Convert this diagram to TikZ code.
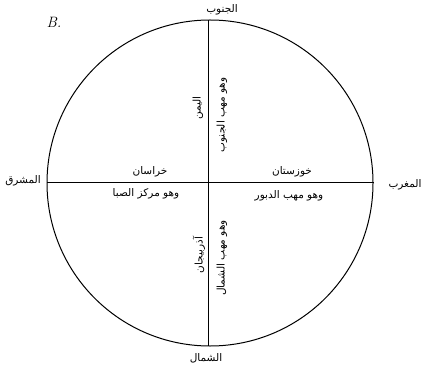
\documentclass[tikz,border=0pt]{standalone}
\usepackage{fontspec}
\newfontfamily\arabicfont[Script=Arabic]{DejaVu Sans}
\TeXXeTstate=1
\begin{document}
\begin{tikzpicture}[x=1pt,y=-1pt,
  ar/.style={font=\arabicfont\fontsize{10.5}{11}\selectfont, inner sep=1pt},
  line/.style={line width=1pt}]
\useasboundingbox (0,0) rectangle (430,371);
\coordinate (c) at (210,183);
\draw[line] (c) circle[radius=163];
\coordinate (n) at (208,20);
\coordinate (s) at (208,346);
\coordinate (w) at (47,183);
\coordinate (e) at (374,183);
\draw[line] (n) -- (s);
\draw[line] (w) -- (e);
\node[font=\itshape\fontsize{15}{15}\selectfont] (B) at (54,22) {B.};
\node[ar] (top) at (222,10) {\beginR الجنوب\endR};
\node[ar] (bot) at (206,358) {\beginR الشمال\endR};
\node[ar] (left) at (23,181) {\beginR المشرق\endR};
\node[ar] (right) at (405,185) {\beginR المغرب\endR};
\node[ar] (l1) at (150,172) {\beginR خراسان\endR};
\node[ar] (l2) at (146,194) {\beginR وهو مركز الصبا\endR};
\node[ar] (r1) at (292,172) {\beginR خوزستان\endR};
\node[ar] (r2) at (289,196) {\beginR وهو مهب الدبور\endR};
\node[ar, rotate=90] (u1) at (198,108) {\beginR اليمن\endR};
\node[ar, rotate=90] (u2) at (222,115) {\beginR وهو مهب الجنوب\endR};
\node[ar, rotate=90] (d1) at (199,255) {\beginR آذربيجان\endR};
\node[ar, rotate=90] (d2) at (222,258) {\beginR وهو مهب الشمال\endR};
\end{tikzpicture}
\end{document}
